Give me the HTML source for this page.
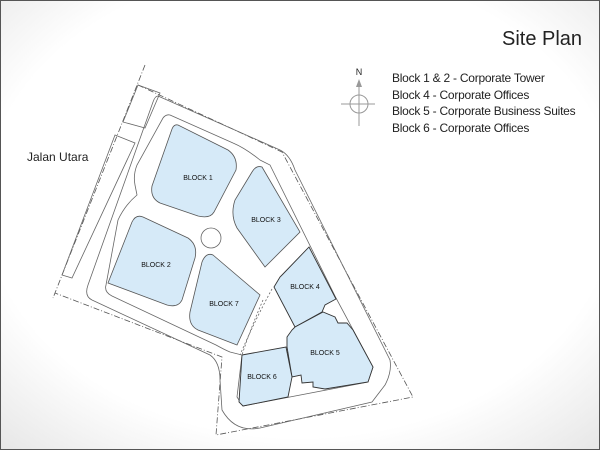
<!DOCTYPE html>
<html><head><meta charset="utf-8"><style>
html,body{margin:0;padding:0}
body{width:600px;height:450px;overflow:hidden;font-family:"Liberation Sans",sans-serif}
.f{position:absolute;left:0;top:0;width:598px;height:448px;border:1px solid #555;background:radial-gradient(ellipse 75% 75% at 50% 45%,#fff 70%,#e6e6e6 100%)}
.t{position:absolute;color:#222}
</style></head><body>
<div class="f"></div>
<svg width="600" height="450" style="position:absolute;left:0;top:0" font-family="Liberation Sans, sans-serif">
<g fill="none" stroke="#555" stroke-width="0.8" stroke-dasharray="6,2,1,2">
<path d="M145,65 L53,298"/>
<path d="M138,85 L282,152 L413,397 L216,435 L222,357 L55,293"/>
</g>
<g fill="none" stroke="#666" stroke-width="0.8">
<path d="M138,85 L160,93 L145,128 L123,122 Z"/>
<path d="M115,135 L135,143 L72,278 L62,275 Z"/>
<path d="M158,96 L280,150 Q290,155 295,170 L390,360 Q392,372 385,385 L372,402 L260,428 Q235,433 222,410 L220,380 Q220,362 210,355 L92,300 Q84,296 88,285 L153,102 Q155,96 158,96 Z"/>
<path d="M170,115 L233,143 Q245,148 260,160 L270,165 L336,298 L373,367 L368,382 L243,406 L237,397 L242,355 L230,352 Q225,350 216,345 L112,296 Q104,292 106,285 L118,220 Q125,205 137,195 L135,185 Q133,175 137,165 L163,118 Q166,114 170,115 Z"/>
<circle cx="211" cy="238" r="10"/>
<path d="M272,289 Q255,320 240,355 M263,300 Q250,330 242,355" stroke-dasharray="2,2"/>
</g>
<g fill="#d6eaf8" stroke="#555" stroke-width="0.8">
<path d="M178,125 L228,150 Q238,157 236,170 L214,212 Q210,219 198,216 L160,203 Q150,198 152,186 L172,129 Q174,124 178,125 Z"/>
<path d="M262,167 L300,232 L265,267 L237,228 Q230,215 235,200 L252,172 Q256,165 262,167 Z"/>
<path d="M143,217 L188,238 Q198,245 195,258 L182,300 Q178,308 167,305 L108,283 L132,222 Q136,214 143,217 Z"/>
<path d="M213,255 L260,295 L237,345 L198,330 Q188,325 190,312 L202,262 Q206,252 213,255 Z"/>
</g>
<g fill="#d6eaf8" stroke="#333" stroke-width="0.9">
<path d="M309,247 L336,299 L325,305 L322,312 L295,327 L274,287 L280,277 L283,274 Z"/>
<path d="M295,327 L323,312 L335,317 L338,323 L347,323 L353,330 L373,367 L368,382 L325,389 L313,387 L313,382 L302,383 L301,375 L292,377 L287,347 L287,337 L292,330 Z"/>
<path d="M242,355 L286,347 L292,377 L288,397 L243,406 L239,402 Z"/>
</g>
<g font-size="7" fill="#111" text-anchor="middle">
<text x="198" y="180">BLOCK 1</text>
<text x="266" y="222">BLOCK 3</text>
<text x="156" y="267">BLOCK 2</text>
<text x="224" y="306">BLOCK 7</text>
<text x="305" y="289">BLOCK 4</text>
<text x="325" y="355">BLOCK 5</text>
<text x="262" y="379">BLOCK 6</text>
</g>
<g stroke="#999" stroke-width="1" fill="none">
<line x1="341" y1="104" x2="375" y2="104"/>
<line x1="359" y1="82" x2="359" y2="126"/>
<circle cx="359" cy="104" r="9"/>
</g>
<path d="M356,87 L359,79 L362,87 Z" fill="#999"/>
<text x="359" y="75" font-size="9" text-anchor="middle" fill="#222">N</text>
</svg>
<div class="t" style="left:502px;top:28px;font-size:20px">Site Plan</div>
<div class="t" style="left:392px;top:70px;font-size:12px;letter-spacing:-0.25px;line-height:16.5px">Block 1 &amp; 2 - Corporate Tower<br>Block 4 - Corporate Offices<br>Block 5 - Corporate Business Suites<br>Block 6 - Corporate Offices</div>
<div class="t" style="left:27px;top:150px;font-size:12px">Jalan Utara</div>
</body></html>
